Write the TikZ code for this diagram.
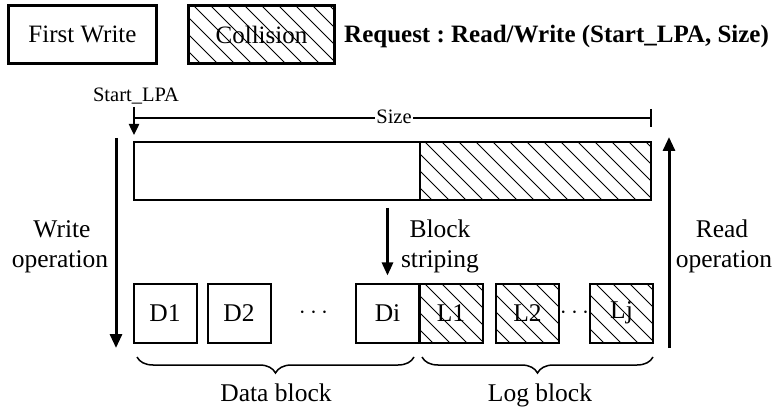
\documentclass[tikz,border=0pt]{standalone}
\usepackage{fontspec}
\setmainfont{Liberation Serif}
\usetikzlibrary{arrows.meta,decorations.pathreplacing}
\frenchspacing
\newcommand\myhatch[4]{%
  \begin{scope}
    \clip (#1,#2) rectangle (#3,#4);
    \foreach \k in {0,...,40} \draw[hatchline] ({#1-80+\k*17},#2) -- ++(120,120);
  \end{scope}}
\begin{document}
\begin{tikzpicture}[x=1pt,y=-1pt,
  txt/.style={inner sep=0pt,font=\fontsize{25.5}{30}\selectfont},
  smalltxt/.style={inner sep=1pt,font=\fontsize{20.5}{24}\selectfont},
  blockbox/.style={draw,line width=2pt,minimum width=63pt,minimum height=59pt,inner sep=0pt,font=\fontsize{25.5}{30}\selectfont},
  legbox/.style={draw,line width=2.8pt,minimum height=58pt,inner sep=0pt,font=\fontsize{25}{30}\selectfont},
  barbox/.style={draw,line width=2pt,minimum height=58pt,inner sep=0pt},
  hatchline/.style={line width=0.9pt},
  bigarrow/.style={line width=3pt,-{Triangle[length=14pt,width=12pt]}},
  midarrow/.style={line width=2.7pt,-{Triangle[length=13pt,width=11pt]}},
  thinarrow/.style={line width=2.4pt,-{Triangle[length=11pt,width=10pt]}},
  bracestyle/.style={line width=1.5pt,decorate,decoration={brace,mirror,amplitude=16pt}}
]
\useasboundingbox (0,0) rectangle (774,414);

% legend
\myhatch{188}{5}{335}{64}
\node[legbox,minimum width=148pt] (fw) at (82.5,34.5) {First Write};
\node[legbox,minimum width=146pt] (col) at (261.5,34.5) {Collision};
\node[inner sep=0pt,anchor=base west,font=\fontsize{25}{30}\selectfont\bfseries] (req) at (344,43) {Request : Read/Write (Start\_LPA, Size)};

% request bar
\myhatch{420}{142}{651}{201}
\node[barbox,minimum width=286pt] (barL) at (277,171.5) {};
\node[barbox,minimum width=231pt] (barR) at (535.5,171.5) {};

% start and size
\node[smalltxt,anchor=base,inner sep=0pt] (slpa) at (136,102) {Start\_LPA};
\coordinate (sa0) at (134,107);
\coordinate (sa1) at (134,135);
\draw[thinarrow] (sa0) -- (sa1);
\coordinate (s0) at (134,118);
\coordinate (s1) at (651,118);
\coordinate (t0) at (651,109);
\coordinate (t1) at (651,127);
\draw[line width=1.5pt] (s0) -- (s1);
\draw[line width=1.5pt] (t0) -- (t1);
\node[smalltxt,fill=white] (size) at (394,117) {Size};

% blocks
\myhatch{419}{283}{483}{343}
\myhatch{496}{283}{559}{343}
\myhatch{590}{283}{653}{343}
\node[blockbox] (d1) at (165,313) {D1};
\node[blockbox] (d2) at (239,313) {D2};
\node[txt] (dots1) at (313.5,313) {$\cdots$};
\node[blockbox] (di) at (387.5,313) {Di};
\node[blockbox] (l1) at (451,313) {L1};
\node[blockbox] (l2) at (527.5,313) {L2};
\node[txt] (dots2) at (574.5,313) {$\cdots$};
\node[blockbox] (lj) at (621.5,313) {Lj};

% write / read arrows
\coordinate (w0) at (116,138);
\coordinate (w1) at (116,348);
\draw[bigarrow] (w0) -- (w1);
\coordinate (r0) at (669,348);
\coordinate (r1) at (669,137);
\draw[bigarrow] (r0) -- (r1);
\node[txt,anchor=base] (wt1) at (62,238) {Write};
\node[txt,anchor=base] (wt2) at (60,268) {operation};
\node[txt,anchor=base] (rt1) at (722,238) {Read};
\node[txt,anchor=base] (rt2) at (724,268) {operation};

% block striping
\coordinate (bs0) at (387.5,208);
\draw[midarrow] (bs0) -- ([yshift=7pt]di.north);
\node[txt,anchor=base] (bst1) at (440,238) {Block};
\node[txt,anchor=base] (bst2) at (440,268) {striping};

% braces
\coordinate (db0) at (137,357);
\coordinate (db1) at (414,357);
\coordinate (lb0) at (422,357);
\coordinate (lb1) at (653,357);
\draw[bracestyle] (db0) -- (db1);
\draw[bracestyle] (lb0) -- (lb1);
\node[txt,anchor=base] (dbt) at (276,401) {Data block};
\node[txt,anchor=base] (lbt) at (540,401) {Log block};
\end{tikzpicture}
\end{document}
